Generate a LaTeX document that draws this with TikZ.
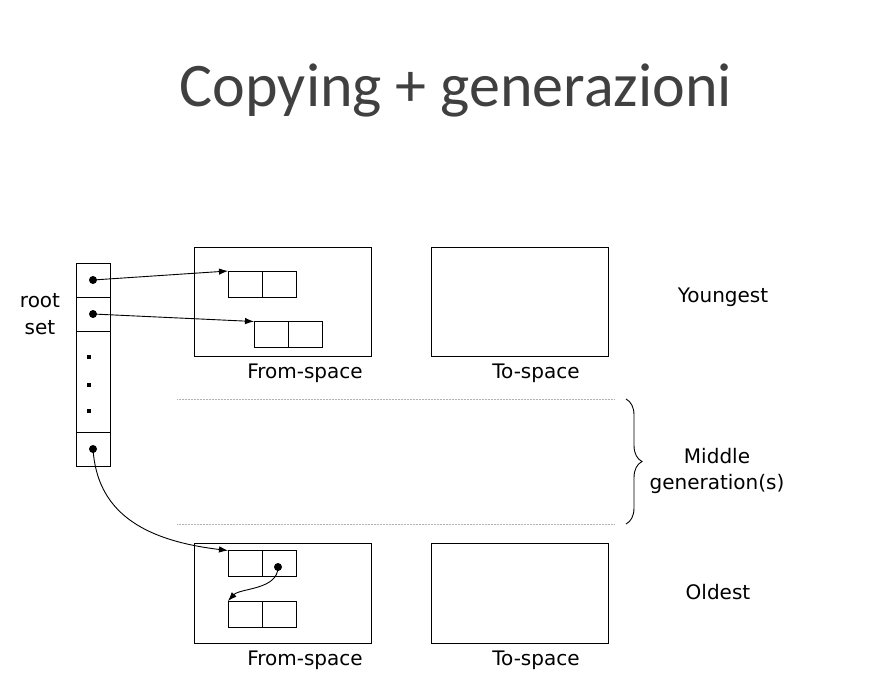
\documentclass[tikz,border=0pt]{standalone}
\usepackage{fontspec}
\setmainfont{DejaVu Sans}
\newfontfamily\titlefont{Carlito}
\usepackage{tikz}
\usetikzlibrary{positioning,arrows.meta,decorations.pathreplacing}

\begin{document}
\begin{tikzpicture}[
    x=1pt, y=-1pt,
    line width=0.9pt,
    font=\fontsize{20}{26.5}\selectfont,
    space/.style={draw, minimum width=177pt, minimum height=109pt, inner sep=0pt, outer sep=0pt},
    cell/.style={draw, minimum width=34pt, minimum height=26pt, inner sep=0pt, outer sep=0pt},
    slot/.style={draw, minimum width=34pt, minimum height=34pt, inner sep=0pt, outer sep=0pt},
    ptr/.style={fill, circle, inner sep=0pt, minimum size=8pt},
    pdot/.style={fill, inner sep=0pt, minimum size=3.5pt},
    sep/.style={densely dotted, black!30, line width=0.5pt},
    >={Latex[length=9pt,width=6.5pt]}
]
\useasboundingbox (0,0) rectangle (890,696);

% Title
\node[font=\titlefont\fontsize{62}{66}\selectfont, text=black!75] (title) at (456,90) {Copying + generazioni};

% Root set
\node[slot] (rootA) at (93,280) {};
\node[slot] (rootB) at (93,314) {};
\node[slot,minimum height=101pt] (rootM) at (93,381.5) {};
\node[slot] (rootZ) at (93,449) {};
\node[align=center] (rootl) at (40,314) {root\\set};
\node[ptr] (d1) at (rootA) {};
\node[ptr] (d2) at (rootB) {};
\node[ptr] (d4) at (rootZ) {};
\node[pdot] (m1) at (89,357) {};
\node[pdot] (m2) at (89,385) {};
\node[pdot] (m3) at (89,411) {};

% Youngest generation
\node[space] (fromY) at (282.5,301.5) {};
\node[space] (toY) at (519.5,301.5) {};
\node[cell] (yA1) at (245,284) {};
\node[cell,right=0pt of yA1] (yA2) {};
\node[cell] (yB1) at (271,334.5) {};
\node[cell,right=0pt of yB1] (yB2) {};
\node (fromYl) at (305,373) {From-space};
\node (toYl) at (536,373) {To-space};
\node (young) at (723,297) {Youngest};

% Middle generations
\draw[sep] (177,399) -- (615,399);
\draw[sep] (177,524) -- (615,524);
\draw[decorate,decoration={brace,amplitude=16pt}] (626,399) -- (626,524);
\node[align=center] (middle) at (717,471) {Middle\\generation(s)};

% Oldest generation
\node[space,minimum height=100pt] (fromO) at (282.5,593) {};
\node[space,minimum height=100pt] (toO) at (519.5,593) {};
\node[cell] (oA1) at (245,563.5) {};
\node[cell,right=0pt of oA1] (oA2) {};
\node[cell] (oB1) at (245,614) {};
\node[cell,right=0pt of oB1] (oB2) {};
\node[ptr] (d5) at (278,567) {};
\node (fromOl) at (305,660) {From-space};
\node (toOl) at (536,660) {To-space};
\node (old) at (718,592) {Oldest};

% Pointers
\draw[->] (d1.center) -- (yA1.north west);
\draw[->] (d2.center) -- (yB1.north west);
\draw[->] (d4.center) .. controls (97,510) and (140,540) .. (oA1.north west);
\draw[->] (d5.center) .. controls (278,590) and (240,588) .. (oB1.north west);

\end{tikzpicture}
\end{document}
